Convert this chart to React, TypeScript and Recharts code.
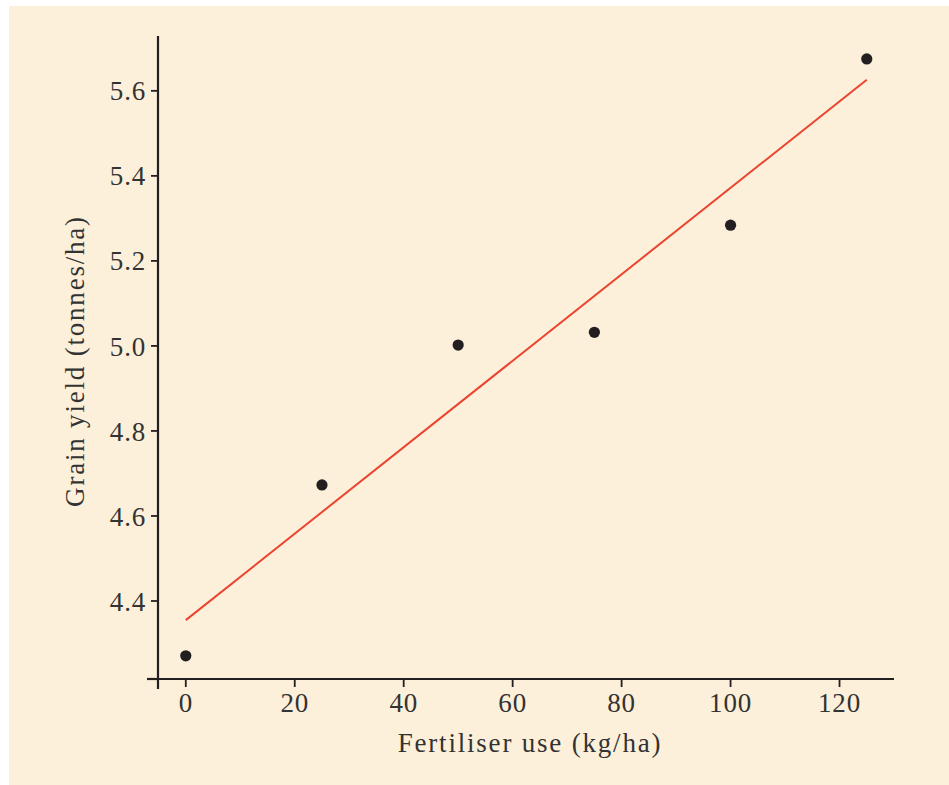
import React from "react";
import { ComposedChart, Scatter, Line, XAxis, YAxis, ReferenceLine } from "recharts";

const fertiliser = [0, 25, 50, 75, 100, 125];
const grainYield = [4.271, 4.673, 5.002, 5.032, 5.284, 5.675];

const fitX = [0, 125];
const fitY = [4.355, 5.626];

const xTicks = [0, 20, 40, 60, 80, 100, 120];
const yTicks = [4.4, 4.6, 4.8, 5.0, 5.2, 5.4, 5.6];

const points = fertiliser.map((x, i) => ({ x, y: grainYield[i] }));
const fitLine = fitX.map((x, i) => ({ x, fit: fitY[i] }));

// axis extents (the axes run a little past each other)
const X_MIN = -5.1;
const X_STUB = -7.12;
const Y_MIN = 4.2165;
const Y_STUB = 4.193;

const BG = "#fdf0da";
const INK = "#231f20";
const TEXT = "#333333";
const RED = "#ea432f";
const FONT = "Liberation Serif";

const tickStyle = { fill: TEXT, fontSize: 27, fontFamily: FONT, letterSpacing: 0.8 };

export default function App() {
  return (
    <div style={{ position: "absolute", left: 9, top: 6, width: 940, height: 779, background: BG, fontFamily: FONT }}>
      <ComposedChart width={940} height={779} margin={{ top: 30, right: 55, bottom: 46, left: 0 }}>
        <XAxis
          dataKey="x"
          type="number"
          domain={[X_MIN, 130]}
          ticks={xTicks}
          allowDataOverflow
          height={60}
          stroke={INK}
          axisLine={{ stroke: INK, strokeWidth: 2.2 }}
          tickLine={{ stroke: INK, strokeWidth: 1.8 }}
          tickSize={8}
          tickMargin={6}
          tick={tickStyle}
          label={{
            content: () => (
              <text x={521} y={746} textAnchor="middle" fill={TEXT} fontSize={27} fontFamily={FONT} letterSpacing={1.8}>
                Fertiliser use (kg/ha)
              </text>
            ),
          }}
        />
        <YAxis
          type="number"
          domain={[Y_MIN, 5.729]}
          ticks={yTicks}
          allowDataOverflow
          width={149}
          stroke={INK}
          axisLine={{ stroke: INK, strokeWidth: 2.2 }}
          tickLine={{ stroke: INK, strokeWidth: 1.8 }}
          tickSize={7}
          tickMargin={5}
          tick={tickStyle}
          tickFormatter={(v: number) => v.toFixed(1)}
          label={{
            content: () => (
              <text
                x={75}
                y={355}
                transform="rotate(-90 75 355)"
                textAnchor="middle"
                fill={TEXT}
                fontSize={27}
                fontFamily={FONT}
                letterSpacing={1.8}
              >
                Grain yield (tonnes/ha)
              </text>
            ),
          }}
        />
        <ReferenceLine
          segment={[{ x: X_STUB, y: Y_MIN }, { x: X_MIN, y: Y_MIN }]}
          stroke={INK}
          strokeWidth={2.2}
          ifOverflow="visible"
        />
        <ReferenceLine
          segment={[{ x: X_MIN, y: Y_STUB }, { x: X_MIN, y: Y_MIN }]}
          stroke={INK}
          strokeWidth={2.2}
          ifOverflow="visible"
        />
        <Line
          data={fitLine}
          dataKey="fit"
          type="linear"
          stroke={RED}
          strokeWidth={2}
          dot={false}
          activeDot={false}
          isAnimationActive={false}
        />
        <Scatter
          data={points}
          dataKey="y"
          fill={INK}
          isAnimationActive={false}
          shape={(p: any) => <circle cx={p.cx} cy={p.cy} r={5.6} fill={INK} />}
        />
      </ComposedChart>
    </div>
  );
}
